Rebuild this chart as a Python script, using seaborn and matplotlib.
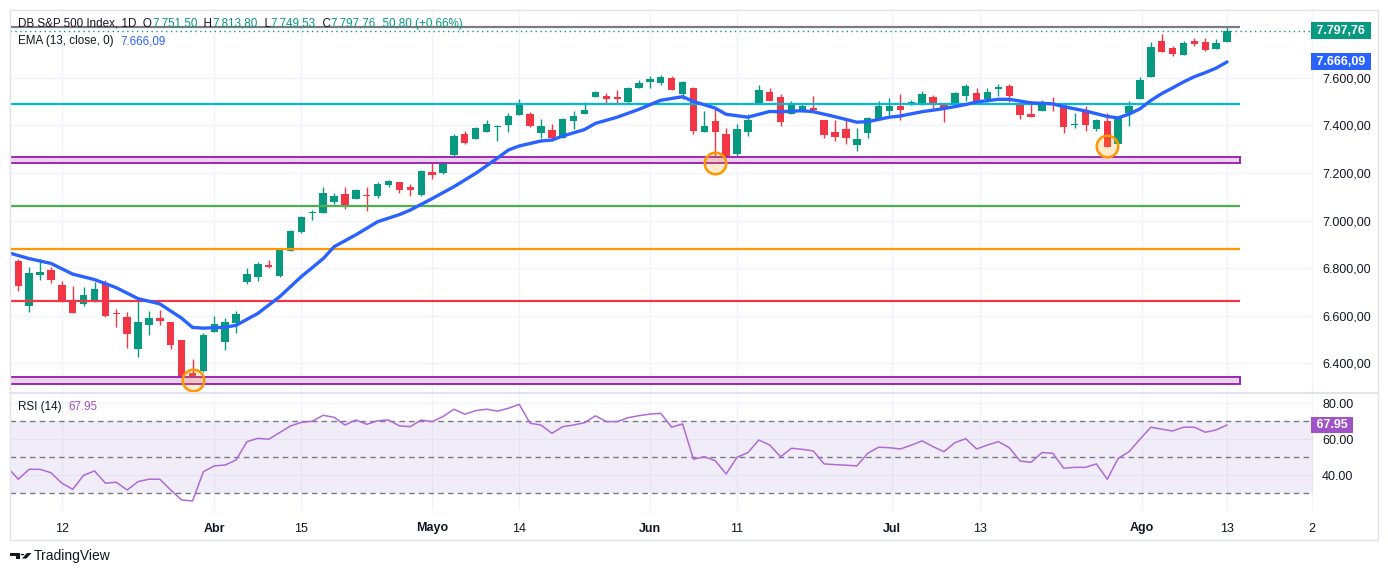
import matplotlib
matplotlib.use("Agg")
import matplotlib.pyplot as plt
import matplotlib.transforms as mtransforms
from matplotlib.patches import Rectangle, Polygon, Circle
from matplotlib.lines import Line2D
import seaborn as sns
import pandas as pd

# daily candles, bar -1 is the one cut off at the left edge
opens = [6848, 6831, 6642, 6773, 6792, 6729, 6663, 6650, 6662, 6733, 6612, 6594, 6462, 6563, 6589, 6574,
         6498, 6358, 6369, 6533, 6491, 6571, 6743, 6764, 6813, 6767, 6873, 6953, 7030, 7033, 7078, 7112,
         7089, 7107, 7104, 7149, 7162, 7141, 7107, 7204, 7201, 7275, 7364, 7344, 7373, 7394, 7403, 7445,
         7448, 7369, 7380, 7348, 7418, 7449, 7519, 7523, 7519, 7498, 7558, 7583, 7578, 7599, 7533, 7557,
         7373, 7418, 7364, 7281, 7373, 7494, 7540, 7519, 7449, 7460, 7473, 7422, 7372, 7385, 7319, 7369,
         7427, 7460, 7481, 7487, 7487, 7519, 7490, 7485, 7524, 7536, 7511, 7554, 7565, 7485, 7448, 7460,
         7494, 7485, 7400, 7460, 7386, 7418, 7323, 7452, 7512, 7604, 7754, 7725, 7697, 7754, 7750, 7722,
         7751.50]
highs = [6852, 6837, 6806, 6837, 6804, 6746, 6725, 6720, 6743, 6750, 6629, 6616, 6662, 6620, 6624, 6576,
         6500, 6418, 6526, 6599, 6589, 6620, 6801, 6827, 6834, 6882, 6960, 7019, 7043, 7141, 7116, 7141,
         7133, 7141, 7162, 7172, 7163, 7155, 7212, 7240, 7263, 7364, 7377, 7394, 7421, 7401, 7452, 7511,
         7456, 7427, 7406, 7430, 7460, 7498, 7544, 7534, 7548, 7561, 7590, 7607, 7611, 7607, 7586, 7561,
         7460, 7476, 7389, 7406, 7448, 7569, 7557, 7532, 7502, 7490, 7523, 7423, 7422, 7422, 7389, 7435,
         7502, 7515, 7532, 7506, 7544, 7527, 7491, 7540, 7574, 7557, 7557, 7574, 7574, 7494, 7502, 7506,
         7519, 7494, 7452, 7481, 7427, 7452, 7437, 7501, 7602, 7750, 7784, 7733, 7754, 7767, 7767, 7763,
         7813.80]
lows = [6815, 6705, 6617, 6750, 6739, 6660, 6610, 6642, 6659, 6595, 6554, 6466, 6428, 6521, 6563, 6462,
        6342, 6316, 6363, 6533, 6456, 6529, 6735, 6747, 6802, 6764, 6873, 6949, 7002, 7033, 7068, 7047,
        7089, 7041, 7096, 7142, 7114, 7104, 7103, 7173, 7197, 7271, 7323, 7344, 7373, 7335, 7373, 7445,
        7393, 7348, 7333, 7348, 7385, 7449, 7519, 7495, 7495, 7494, 7558, 7558, 7569, 7550, 7509, 7365,
        7373, 7240, 7258, 7251, 7356, 7494, 7503, 7398, 7449, 7456, 7460, 7348, 7335, 7323, 7293, 7348,
        7427, 7443, 7422, 7486, 7486, 7474, 7415, 7485, 7503, 7498, 7498, 7523, 7498, 7427, 7435, 7460,
        7460, 7369, 7389, 7376, 7376, 7308, 7320, 7396, 7511, 7602, 7708, 7692, 7697, 7734, 7713, 7722,
        7749.53]
closes = [6822, 6726, 6781, 6784, 6750, 6663, 6613, 6687, 6712, 6599, 6609, 6525, 6574, 6589, 6578, 6479,
          6344, 6337, 6519, 6566, 6574, 6608, 6776, 6817, 6805, 6876, 6956, 7015, 7034, 7116, 7103, 7056,
          7128, 7102, 7154, 7166, 7128, 7130, 7208, 7193, 7254, 7355, 7327, 7389, 7406, 7398, 7439, 7492,
          7397, 7397, 7347, 7427, 7439, 7464, 7540, 7512, 7512, 7557, 7578, 7595, 7603, 7550, 7582, 7377,
          7397, 7373, 7260, 7385, 7422, 7548, 7503, 7415, 7490, 7481, 7464, 7361, 7352, 7348, 7343, 7431,
          7481, 7481, 7464, 7498, 7532, 7491, 7469, 7536, 7565, 7502, 7540, 7561, 7523, 7445, 7436, 7498,
          7491, 7394, 7406, 7401, 7422, 7310, 7435, 7480, 7590, 7729, 7709, 7701, 7746, 7743, 7718, 7746.96,
          7797.76]
bar_idx = list(range(-1, 112))

# EMA(13)
ema_idx = [-1, 1, 3, 5, 7, 9, 11, 13, 15, 16, 17, 19, 20, 22, 24, 26, 28, 29, 31, 33, 35, 36, 38, 40,
           42, 44, 45, 46, 48, 49, 50, 52, 53, 55, 57, 59, 61, 62, 64, 65, 67, 69, 70, 72, 73, 75, 77,
           78, 80, 81, 83, 85, 87, 88, 90, 91, 93, 95, 96, 98, 100, 101, 102, 103, 104, 105, 106, 107,
           108, 109, 110, 111]
ema_vals = [6866, 6840, 6820, 6775, 6752, 6718, 6672, 6650, 6590, 6551, 6548, 6552, 6560, 6610, 6680,
            6765, 6840, 6890, 6940, 6995, 7025, 7044, 7092, 7142, 7198, 7262, 7296, 7313, 7334, 7338,
            7355, 7382, 7408, 7434, 7467, 7505, 7520, 7500, 7472, 7446, 7434, 7458, 7457, 7461, 7457,
            7436, 7413, 7415, 7434, 7439, 7457, 7470, 7487, 7498, 7509, 7509, 7494, 7490, 7478, 7460,
            7437, 7431, 7447, 7469, 7504, 7533, 7557, 7582, 7604, 7621, 7640, 7666.09]

# RSI(14), one value per bar
rsi_vals = [44.5, 37.8, 43.3, 43.3, 41.4, 35.6, 32.2, 40.0, 42.4, 35.6, 36.1, 31.8, 36.5, 37.8, 37.8,
            31.8, 26.3, 25.7, 42.0, 45.2, 45.7, 48.5, 58.7, 60.5, 60.0, 63.7, 67.4, 69.4, 70.0, 73.3,
            72.2, 67.9, 70.7, 68.3, 70.3, 70.7, 67.4, 67.0, 70.7, 69.8, 72.6, 76.7, 73.9, 75.9, 76.7,
            75.6, 77.2, 79.4, 68.9, 67.9, 63.3, 67.0, 67.9, 69.2, 73.0, 69.8, 69.8, 72.0, 73.1, 74.0,
            74.4, 66.7, 68.5, 48.9, 50.3, 48.1, 40.7, 50.0, 52.6, 59.6, 56.8, 50.3, 55.0, 54.4, 53.5,
            46.3, 45.9, 45.6, 45.2, 52.2, 55.6, 55.3, 54.6, 56.7, 59.1, 55.9, 53.1, 58.1, 60.3, 54.6,
            56.8, 58.7, 55.3, 47.9, 47.2, 52.6, 52.2, 43.9, 44.4, 44.4, 46.3, 37.8, 49.4, 53.1, 60.0,
            66.7, 65.6, 64.6, 66.7, 66.7, 63.9, 65.2, 67.95]

# drawn levels
level_lines = [7490, 7062, 6880, 6662]
level_colors = ["#00bcd4", "#4caf50", "#ff9800", "#f23645"]
zones = [(7240, 7267), (6314, 6345)]
circle_idx = [16, 64, 100]
circle_price = [6330, 7242, 7313]

price_ticks = [6400, 6600, 6800, 7000, 7200, 7400, 7600]
rsi_ticks = [40, 60, 80]
date_pos = [4, 18, 26, 38, 46, 58, 66, 80.2, 88.3, 103.2, 111, 118.8]
date_labels = ["12", "Abr", "15", "Mayo", "14", "Jun", "11", "Jul", "13", "Ago", "13", "2"]
month_labels = ["Abr", "Mayo", "Jun", "Jul", "Ago"]

GREEN = "#089981"
RED = "#f23645"
BLUE = "#2962ff"
PURPLE = "#a052c8"
TXT = "#131722"
GRID = "#f0f3fa"
FRAME = "#e0e3eb"


def eu(v):
    return f"{v:,.2f}".replace(",", "X").replace(".", ",").replace("X", ".")


sns.set_style("white")
plt.rcParams["font.family"] = ["Liberation Sans", "DejaVu Sans"]

W, H = 1388, 575
fig = plt.figure(figsize=(W / 100, H / 100), dpi=100)
fig.patch.set_facecolor("white")


def fx(px):
    return px / W


def fy(py):
    return 1 - py / H


ax = fig.add_axes([fx(10), fy(392), fx(1313) - fx(10), fy(10) - fy(392)])
ax2 = fig.add_axes([fx(10), fy(510), fx(1313) - fx(10), fy(393) - fy(510)])

x_lo, x_hi = -0.76, 118.89
level_end = 112.2

df = pd.DataFrame({"i": bar_idx, "o": opens, "h": highs, "l": lows, "c": closes})
df["up"] = df["c"] >= df["o"]
cols = [GREEN if u else RED for u in df["up"]]
body_lo = df[["o", "c"]].min(axis=1)
body_h = (df["c"] - df["o"]).abs().clip(lower=4)

# candles
ax.vlines(df["i"], df["l"], df["h"], colors=cols, lw=1, zorder=2)
ax.bar(df["i"], body_h, bottom=body_lo, width=0.68, color=cols, linewidth=0, zorder=2)

# levels and zones
for lv, lc in zip(level_lines, level_colors):
    ax.hlines(lv, x_lo, level_end, color=lc, lw=1.6, zorder=3)
for lo, hi in zones:
    ax.add_patch(Rectangle((x_lo, lo), level_end - x_lo, hi - lo, facecolor="#ead2ef",
                           edgecolor="#9c27b0", lw=1.4, zorder=3))
ax.hlines(highs[-1], x_lo, level_end, color="#787b86", lw=1.6, zorder=3)
ax.axhline(closes[-1], color=GREEN, lw=1, ls=(0, (1, 2.5)), zorder=3)

# EMA
sns.lineplot(x=ema_idx, y=ema_vals, ax=ax, color=BLUE, lw=2.4, zorder=4, sort=False)

ax.scatter(circle_idx, circle_price, s=240, facecolors=(1, 0.6, 0, 0.2),
           edgecolors="#ff9800", linewidths=1.8, zorder=5)

ax.set_xlim(x_lo, x_hi)
ax.set_ylim(6280, 7884)
ax.set_xticks(date_pos)
ax.set_xticklabels([])
ax.set_yticks(price_ticks)
ax.yaxis.tick_right()
ax.set_yticklabels([eu(p) for p in price_ticks])
ax.tick_params(axis="y", length=0, pad=6.5, labelsize=9, labelcolor=TXT)
ax.tick_params(axis="x", length=0)
ax.grid(True, color=GRID, lw=1)
ax.set_axisbelow(True)
for s in ax.spines.values():
    s.set_visible(False)
ax.set_xlabel("")
ax.set_ylabel("")

# RSI panel
ax2.axhspan(30, 70, color="#7e57c2", alpha=0.1, lw=0)
for lv in [70, 50, 30]:
    ax2.axhline(lv, color="#787b86", lw=1, ls=(0, (4, 3)))
sns.lineplot(x=bar_idx, y=rsi_vals, ax=ax2, color="#b06ad8", lw=1.1)
ax2.set_xlim(x_lo, x_hi)
ax2.set_ylim(20.7, 85.7)
ax2.set_xticks(date_pos)
ax2.set_xticklabels(date_labels)
for t in ax2.get_xticklabels():
    if t.get_text() in month_labels:
        t.set_fontweight("bold")
ax2.set_yticks(rsi_ticks)
ax2.yaxis.tick_right()
ax2.set_yticklabels([f"{r:.2f}" for r in rsi_ticks])
ax2.tick_params(axis="y", length=0, pad=6.5, labelsize=9, labelcolor=TXT)
ax2.tick_params(axis="x", length=0, pad=9, labelsize=9, labelcolor=TXT)
ax2.grid(True, color=GRID, lw=1)
ax2.set_axisbelow(True)
for s in ax2.spines.values():
    s.set_visible(False)
ax2.set_xlabel("")
ax2.set_ylabel("")

# last value tags on the scale
tag_tr = mtransforms.blended_transform_factory(ax.transAxes, ax.transData)
for val, col in [(closes[-1], GREEN), (ema_vals[-1], BLUE)]:
    ax.text(1.0, val, " " + eu(val) + " ", transform=tag_tr, ha="left", va="center",
            fontsize=9, color="white", fontweight="bold", zorder=10, clip_on=False,
            bbox=dict(boxstyle="square,pad=0.2", fc=col, ec="none"))
tag_tr2 = mtransforms.blended_transform_factory(ax2.transAxes, ax2.transData)
ax2.text(1.0, rsi_vals[-1], f" {rsi_vals[-1]:.2f} ", transform=tag_tr2, ha="left", va="center",
         fontsize=9, color="white", fontweight="bold", zorder=10, clip_on=False,
         bbox=dict(boxstyle="square,pad=0.15", fc=PURPLE, ec="none"))


def chain(host, px, py, pieces, size=8.4):
    t = fig.text(fx(px), fy(py), pieces[0][0], color=pieces[0][1], fontsize=size,
                 ha="left", va="center")
    for txt, col in pieces[1:]:
        t = host.annotate(txt, xy=(1, 0), xycoords=t, ha="left", va="bottom",
                          color=col, fontsize=size, zorder=12)


chg = closes[-1] - closes[-2]
pct = chg / closes[-2] * 100
chain(ax, 18, 24, [("DB S&P 500 Index, 1D  O", TXT), (eu(opens[-1]), GREEN), ("  H", TXT),
                   (eu(highs[-1]), GREEN), ("  L", TXT), (eu(lows[-1]), GREEN), ("  C", TXT),
                   (eu(closes[-1]), GREEN), (f"  {eu(chg)} (+{pct:.2f}%)", GREEN)])
chain(ax, 18, 41, [("EMA (13, close, 0)  ", TXT), (eu(ema_vals[-1]), BLUE)])
chain(ax2, 18, 407, [("RSI (14)  ", TXT), (f"{rsi_vals[-1]:.2f}", PURPLE)])

# frame and pane separator
fig.add_artist(Rectangle((fx(10), fy(540)), fx(1378) - fx(10), fy(10) - fy(540),
                         transform=fig.transFigure, fill=False, ec=FRAME, lw=1))
fig.add_artist(Line2D([fx(10), fx(1378)], [fy(392.5), fy(392.5)], transform=fig.transFigure,
                      color=FRAME, lw=1.5))

# TradingView mark
fig.add_artist(Polygon([(fx(10), fy(553)), (fx(20), fy(553)), (fx(20), fy(558.5)),
                        (fx(15.5), fy(558.5)), (fx(15.5), fy(556)), (fx(10), fy(556))],
                       closed=True, transform=fig.transFigure, fc=TXT, ec="none"))
fig.add_artist(Circle((fx(22.5), fy(554.6)), 1.8 / W, transform=fig.transFigure, fc=TXT, ec="none"))
fig.add_artist(Polygon([(fx(22), fy(558.5)), (fx(26.5), fy(558.5)), (fx(31.5), fy(553)),
                        (fx(27), fy(553))],
                       closed=True, transform=fig.transFigure, fc=TXT, ec="none"))
fig.text(fx(34), fy(556), "TradingView", fontsize=10, color=TXT, ha="left", va="center")

fig.savefig("out.png", dpi=100, facecolor="white")
